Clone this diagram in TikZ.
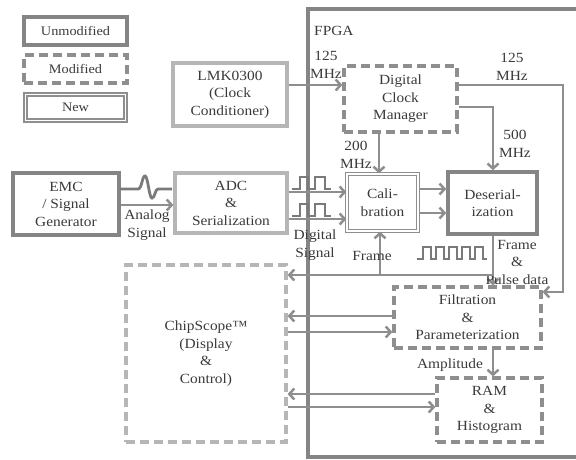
\documentclass[tikz,border=0pt]{standalone}
\usepackage{fontspec}
\setmainfont{Liberation Serif}[FakeStretch=1.1]
\usetikzlibrary{arrows.meta,positioning}
\definecolor{boxdark}{HTML}{858585}
\definecolor{boxlight}{HTML}{B6B6B6}
\definecolor{wire}{HTML}{8E8E8E}
\definecolor{wave}{HTML}{7A7A7A}
\definecolor{txt}{HTML}{3A3A3A}
\newcommand\blkfont{\fontsize{14}{17.5}\selectfont}
\newcommand\legfont{\fontsize{13}{16}\selectfont}
\tikzset{
  blk/.style={align=center, inner sep=0pt, text=txt, font=\blkfont},
  unmod/.style={blk, draw=boxdark, line width=3.6pt},
  light/.style={blk, draw=boxlight, line width=3.2pt},
  modif/.style={blk, draw=wire, line width=3.2pt, dash pattern=on 9pt off 5pt},
  lightmod/.style={blk, draw=boxlight, line width=3.2pt, dash pattern=on 9pt off 5pt},
  newblk/.style={blk, draw=wire, line width=1.3pt, double=white, double distance=1.8pt},
  lbl/.style={align=center, inner sep=0pt, text=txt, font=\blkfont},
  arr/.style={draw=wire, line width=2.5pt, -{Straight Barb[length=5pt,width=11pt]}},
  plain/.style={draw=wire, line width=2.5pt},
  sig/.style={draw=wave, line width=2.8pt},
  fpga/.style={draw=boxdark, line width=3.6pt}
}
\begin{document}
\begin{tikzpicture}[x=1pt,y=-1pt]
  \useasboundingbox (0,0) rectangle (576,460);
  % FPGA boundary, open to the right
  \draw[fpga] (600,9) -- (308,9) -- (308,457) -- (600,457);
  \node[lbl,anchor=west] (fpgalbl) at (314,31) {FPGA};
  % Legend
  \node[unmod,minimum width=103pt,minimum height=28pt,font=\legfont] (legunmod) at (75.5,31) {Unmodified};
  \node[modif,minimum width=103pt,minimum height=28pt,font=\legfont] (legmod) at (75.5,69) {Modified};
  \node[newblk,minimum width=100pt,minimum height=26pt,font=\legfont] (legnew) at (75.5,107.5) {New};
  % Blocks outside the FPGA
  \node[light,minimum width=114pt,minimum height=63pt] (lmk) at (230,94.5) {LMK0300\\(Clock\\Conditioner)};
  \node[unmod,minimum width=106pt,minimum height=62pt] (emc) at (66,204) {EMC\\/ Signal\\Generator};
  \node[light,minimum width=112pt,minimum height=60pt] (adc) at (231,203) {ADC\\\&\\Serialization};
  \node[lightmod,minimum width=160pt,minimum height=177pt] (chip) at (206,353.5) {ChipScope™\\(Display\\\&\\Control)};
  % Blocks inside the FPGA
  \node[modif,minimum width=113pt,minimum height=66pt] (dcm) at (400.5,99) {Digital\\Clock\\Manager};
  \node[newblk,minimum width=71pt,minimum height=57pt] (cal) at (382.5,202.5) {Cali-\\bration};
  \node[unmod,minimum width=89pt,minimum height=62pt] (des) at (492.5,203) {Deserial-\\ization};
  \node[modif,minimum width=147pt,minimum height=61pt] (filt) at (467.5,317.5) {Filtration\\\&\\Parameterization};
  \node[modif,minimum width=105pt,minimum height=64pt] (ram) at (489.5,410) {RAM\\\&\\Histogram};
  % Clock paths
  \draw[arr] (lmk.east |- 0,85) -- (dcm.west |- 0,85);
  \node[lbl] (mhzlmk) at (326,65) {125\\MHz};
  \draw[arr] (dcm.south -| 379,0) -- (cal.north -| 379,0);
  \node[lbl] (mhzcal) at (356,155) {200\\MHz};
  \draw[arr] (dcm.east |- 0,107) -| (des.north -| 493,0);
  \node[lbl] (mhzdes) at (515,144) {500\\MHz};
  \draw[arr] (dcm.east |- 0,85) -| (563,292) -- (filt.east |- 0,292);
  \node[lbl] (mhzfilt) at (512,67) {125\\MHz};
  % Signal paths
  \draw[arr] (emc.east |- 0,205) -- (adc.west |- 0,205);
  \node[lbl] (analog) at (147,225) {Analog\\Signal};
  \draw[sig] (120,189) -- (138,189) .. controls (142,189) and (142,176) .. (145,176)
        .. controls (148,176) and (149,198) .. (152,198)
        .. controls (155,198) and (155,189) .. (158,189) -- (172,189);
  \draw[arr] (adc.east |- 0,192) -- (cal.west |- 0,192);
  \draw[arr] (adc.east |- 0,219) -- (cal.west |- 0,219);
  \foreach \yb in {189,216}
    \draw[sig] (292,\yb) -- (300,\yb) -- (300,\yb-12) -- (308,\yb-12) -- (308,\yb)
          -- (315,\yb) -- (315,\yb-12) -- (325,\yb-12) -- (325,\yb) -- (331,\yb);
  \node[lbl] (digital) at (315,245) {Digital\\Signal};
  \draw[arr] (cal.east |- 0,189) -- (des.west |- 0,189);
  \draw[arr] (cal.east |- 0,213) -- (des.west |- 0,213);
  % Frame and pulse data
  \draw[arr] (des.south -| 493,0) -- (filt.north -| 493,0);
  \node[lbl] (framepulse) at (517,262) {Frame\\\&\\Pulse data};
  \draw[sig] (417,259) -- (423,259)
    \foreach \k in {0,...,4} { -- (423+13*\k,259) -- (423+13*\k,247) -- (431+13*\k,247) -- (431+13*\k,259) }
    -- (487,259);
  \coordinate (fjoin) at (493,275);
  \draw[arr] (fjoin) -- (chip.east |- fjoin);
  \draw[arr] (380,275) -- (cal.south -| 380,0);
  \node[lbl] (framelbl) at (372,256) {Frame};
  % ChipScope links
  \draw[arr] (filt.west |- 0,316) -- (chip.east |- 0,316);
  \draw[arr] (chip.east |- 0,332) -- (filt.west |- 0,332);
  \draw[arr] (ram.west |- 0,394) -- (chip.east |- 0,394);
  \draw[arr] (chip.east |- 0,407) -- (ram.west |- 0,407);
  % Amplitude
  \draw[arr] (filt.south -| 493,0) -- (ram.north -| 493,0);
  \node[lbl] (ampl) at (450,365) {Amplitude};
\end{tikzpicture}
\end{document}
